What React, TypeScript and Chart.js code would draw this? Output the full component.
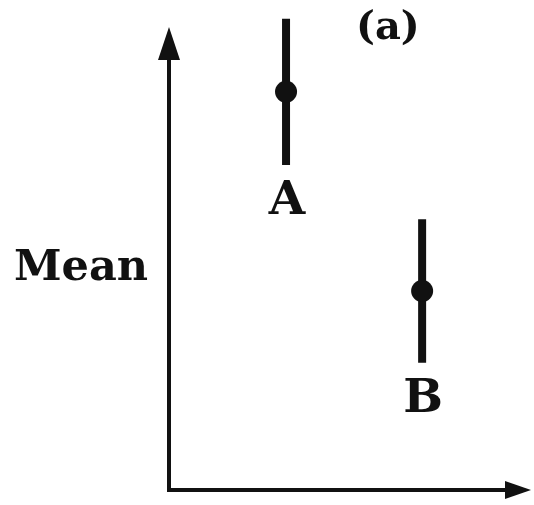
import React, { useEffect, useRef } from "react";
import { Chart, registerables } from "chart.js";

Chart.register(...registerables);

// Groups and their means with half-width of the error bar
const categories = ["A", "B"];
const groupX = [1, 2];
const means = [8.6, 4.3];
const errors = [1.58, 1.55];
const axisTitle = "Mean";
const panelLabel = "(a)";

const FONT = '"DejaVu Serif", serif';

const errorBarsAndAxes = {
  id: "errorBarsAndAxes",
  beforeDatasetsDraw(chart: any) {
    const { ctx, chartArea, scales } = chart;
    const xs = scales.x;
    const ys = scales.y;
    ctx.save();

    // axes with arrowheads
    ctx.strokeStyle = "#111";
    ctx.fillStyle = "#111";
    ctx.lineWidth = 4;
    ctx.beginPath();
    ctx.moveTo(chartArea.left, chartArea.top + 20);
    ctx.lineTo(chartArea.left, chartArea.bottom);
    ctx.lineTo(chartArea.right - 20, chartArea.bottom);
    ctx.stroke();
    // y arrow
    ctx.beginPath();
    ctx.moveTo(chartArea.left, chartArea.top);
    ctx.lineTo(chartArea.left - 11, chartArea.top + 33);
    ctx.lineTo(chartArea.left + 11, chartArea.top + 33);
    ctx.closePath();
    ctx.fill();
    // x arrow
    ctx.beginPath();
    ctx.moveTo(chartArea.right, chartArea.bottom);
    ctx.lineTo(chartArea.right - 26, chartArea.bottom - 9);
    ctx.lineTo(chartArea.right - 26, chartArea.bottom + 9);
    ctx.closePath();
    ctx.fill();

    // error bars with group labels underneath
    ctx.lineWidth = 8;
    ctx.lineCap = "butt";
    ctx.font = `bold 47px ${FONT}`;
    ctx.textAlign = "center";
    ctx.textBaseline = "alphabetic";
    groupX.forEach((gx, i) => {
      const px = xs.getPixelForValue(gx);
      const top = ys.getPixelForValue(means[i] + errors[i]);
      const bot = ys.getPixelForValue(means[i] - errors[i]);
      ctx.beginPath();
      ctx.moveTo(px, top);
      ctx.lineTo(px, bot);
      ctx.stroke();
      ctx.fillText(categories[i], px + 1, bot + 49);
    });

    // axis title and panel label
    ctx.textAlign = "left";
    ctx.font = `bold 43px ${FONT}`;
    ctx.fillText(axisTitle, 14, 280);
    ctx.font = `bold 40px ${FONT}`;
    ctx.fillText(panelLabel, 356, 39);
    ctx.restore();
  },
};

export default function App() {
  const ref = useRef<HTMLCanvasElement | null>(null);

  useEffect(() => {
    if (!ref.current) return;
    const chart = new Chart(ref.current, {
      type: "scatter",
      data: {
        datasets: [
          {
            data: groupX.map((x, i) => ({ x, y: means[i] })),
            pointRadius: 11,
            pointBackgroundColor: "#111",
            pointBorderColor: "#111",
            pointBorderWidth: 0,
          },
        ],
      },
      options: {
        responsive: false,
        animation: false,
        layout: { autoPadding: false, padding: { left: 169, top: 27, right: 3, bottom: 15 } },
        scales: {
          x: { type: "linear", min: 0.14, max: 2.8, display: false },
          y: { type: "linear", min: 0, max: 10, display: false },
        },
        plugins: {
          legend: { display: false },
          tooltip: { enabled: false },
        },
      },
      plugins: [errorBarsAndAxes],
    });
    return () => chart.destroy();
  }, []);

  return (
    <div style={{ position: "fixed", left: 0, top: 0, width: 534, height: 505, background: "#fff" }}>
      <canvas ref={ref} width={534} height={505} style={{ display: "block" }} />
    </div>
  );
}
